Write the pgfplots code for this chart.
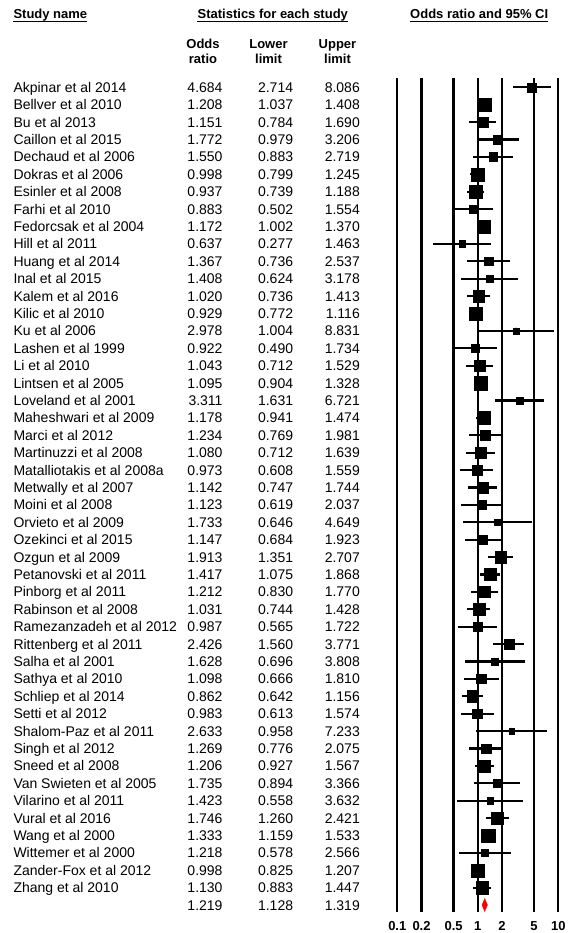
\documentclass[border=0pt]{standalone}
\usepackage{pgfplots}
\usepackage{pgfplotstable}
\pgfplotsset{compat=1.18}
\usepackage{fontspec}
\setmainfont{Liberation Sans}

\pgfplotstableread[col sep=comma]{
row,name,or,lo,hi,sz
1,Akpinar et al 2014,4.684,2.714,8.086,9.0
2,Bellver et al 2010,1.208,1.037,1.408,13.5
3,Bu et al 2013,1.151,0.784,1.690,10.8
4,Caillon et al 2015,1.772,0.979,3.206,8.5
5,Dechaud et al 2006,1.550,0.883,2.719,8.8
6,Dokras et al 2006,0.998,0.799,1.245,12.8
7,Esinler et al 2008,0.937,0.739,1.188,12.6
8,Farhi et al 2010,0.883,0.502,1.554,8.8
9,Fedorcsak et al 2004,1.172,1.002,1.370,13.5
10,Hill et al 2011,0.637,0.277,1.463,6.7
11,Huang et al 2014,1.367,0.736,2.537,8.3
12,Inal et al 2015,1.408,0.624,3.178,6.8
13,Kalem et al 2016,1.020,0.736,1.413,11.5
14,Kilic et al 2010,0.929,0.772,1.116,13.2
15,Ku et al 2006,2.978,1.004,8.831,5.6
16,Lashen et al 1999,0.922,0.490,1.734,8.2
17,Li et al 2010,1.043,0.712,1.529,10.8
18,Lintsen et al 2005,1.095,0.904,1.328,13.1
19,Loveland et al 2001,3.311,1.631,6.721,7.5
20,Maheshwari et al 2009,1.178,0.941,1.474,12.7
21,Marci et al 2012,1.234,0.769,1.981,9.7
22,Martinuzzi et al 2008,1.080,0.712,1.639,10.4
23,Matalliotakis et al 2008a,0.973,0.608,1.559,9.7
24,Metwally et al 2007,1.142,0.747,1.744,10.3
25,Moini et al 2008,1.123,0.619,2.037,8.5
26,Orvieto et al 2009,1.733,0.646,4.649,5.9
27,Ozekinci et al 2015,1.147,0.684,1.923,9.3
28,Ozgun et al 2009,1.913,1.351,2.707,11.2
29,Petanovski et al 2011,1.417,1.075,1.868,12.1
30,Pinborg et al 2011,1.212,0.830,1.770,10.8
31,Rabinson et al 2008,1.031,0.744,1.428,11.5
32,Ramezanzadeh et al 2012,0.987,0.565,1.722,8.8
33,Rittenberg et al 2011,2.426,1.560,3.771,10.1
34,Salha et al 2001,1.628,0.696,3.808,6.6
35,Sathya et al 2010,1.098,0.666,1.810,9.4
36,Schliep et al 2014,0.862,0.642,1.156,11.9
37,Setti et al 2012,0.983,0.613,1.574,9.7
38,Shalom-Paz et al 2011,2.633,0.958,7.233,5.8
39,Singh et al 2012,1.269,0.776,2.075,9.5
40,Sneed et al 2008,1.206,0.927,1.567,12.3
41,Van Swieten et al 2005,1.735,0.894,3.366,7.9
42,Vilarino et al 2011,1.423,0.558,3.632,6.1
43,Vural et al 2016,1.746,1.260,2.421,11.5
44,Wang et al 2000,1.333,1.159,1.533,13.6
45,Wittemer et al 2000,1.218,0.578,2.566,7.3
46,Zander-Fox et al 2012,0.998,0.825,1.207,13.1
47,Zhang et al 2010,1.130,0.883,1.447,12.5
}\studies

\pgfplotstableread[col sep=comma]{
row,or,lo,hi
48,1.219,1.128,1.319
}\summary

\begin{document}
\begin{tikzpicture}
\useasboundingbox (0,0) rectangle (569pt,933pt);

% ---------------- text columns ----------------
\begin{axis}[
  at={(0pt,21.3pt)}, anchor=south west,
  scale only axis, width=380pt, height=833.4pt,
  xmin=0, xmax=380, ymin=0.483, ymax=48.385, y dir=reverse,
  hide axis, clip=false,
  every node near coord/.append style={inner sep=0pt, yshift=-5pt,
     font=\fontsize{14}{16}\selectfont, text=black},
]
\addplot[draw=none, mark=none, nodes near coords, point meta=explicit symbolic,
  every node near coord/.append style={anchor=base west}]
  table[x expr=13.3, y=row, meta=name] {\studies};
\addplot[draw=none, mark=none, nodes near coords, point meta=explicit symbolic,
  every node near coord/.append style={anchor=base east}]
  table[x expr=222.7, y=row, meta=or] {\studies};
\addplot[draw=none, mark=none, nodes near coords, point meta=explicit symbolic,
  every node near coord/.append style={anchor=base east}]
  table[x expr=293.3, y=row, meta=lo] {\studies};
\addplot[draw=none, mark=none, nodes near coords, point meta=explicit symbolic,
  every node near coord/.append style={anchor=base east}]
  table[x expr=360, y=row, meta=hi] {\studies};
\addplot[draw=none, mark=none, nodes near coords, point meta=explicit symbolic,
  every node near coord/.append style={anchor=base east}]
  table[x expr=222.7, y=row, meta=or] {\summary};
\addplot[draw=none, mark=none, nodes near coords, point meta=explicit symbolic,
  every node near coord/.append style={anchor=base east}]
  table[x expr=293.3, y=row, meta=lo] {\summary};
\addplot[draw=none, mark=none, nodes near coords, point meta=explicit symbolic,
  every node near coord/.append style={anchor=base east}]
  table[x expr=360, y=row, meta=hi] {\summary};
\end{axis}

% ---------------- forest plot ----------------
\begin{axis}[
  at={(397.3pt,21.3pt)}, anchor=south west,
  scale only axis, width=161pt, height=833.4pt,
  xmode=log, xmin=0.1, xmax=10,
  ymin=0.483, ymax=48.385, y dir=reverse,
  xtick={0.1,0.2,0.5,1,2,5,10},
  xticklabels={0.1,0.2,0.5,1,2,5,10},
  minor xtick={}, ytick=\empty,
  major tick length=0pt,
  xmajorgrids,
  grid style={black, line width=2.2pt},
  major grid style={black, line width=2.2pt},
  axis line style={draw=none},
  xticklabel style={font=\bfseries\fontsize{13}{15}\selectfont, inner sep=0pt, anchor=north, yshift=-9.5pt},
  every error bar/.append style={line width=2.2pt, black},
  clip=false,
]
\addplot[black, line width=2.2pt, only marks, mark=none,
  error bars/.cd, x dir=both, x explicit, error mark=none,
  error bar style={line width=2.2pt, black}]
  table[x=or, y=row, x error plus expr=\thisrow{hi}-\thisrow{or},
        x error minus expr=\thisrow{or}-\thisrow{lo}] {\studies};
\addplot[scatter, only marks, mark=square*,
  scatter/use mapped color={draw=black, fill=black},
  mark options={line width=0.2pt},
  visualization depends on={\thisrow{sz} \as \msz},
  scatter/@pre marker code/.append style={/tikz/mark size=\msz/2}]
  table[x=or, y=row] {\studies};
\addplot[fill=red, draw=red, line width=0.3pt]
  coordinates {(1.128,48) (1.219,47.626) (1.319,48) (1.219,48.374)} -- cycle;
\end{axis}

% ---------------- headers ----------------
\begin{scope}[every node/.style={inner sep=0pt, font=\bfseries\fontsize{13}{15}\selectfont}]
\node[anchor=base west] (h1) at (13.3pt,914.5pt) {Study name};
\node[anchor=base] (h2) at (272.8pt,914.5pt) {Statistics for each study};
\node[anchor=base] (h3) at (479.2pt,914.5pt) {Odds ratio and 95\% CI};
\foreach \h in {h1,h2,h3}{
  \draw[line width=0.9pt] ([yshift=-2.6pt]\h.base west) -- ([yshift=-2.6pt]\h.base east);
}
\node[anchor=base] at (203pt,884.7pt) {Odds};
\node[anchor=base] at (203pt,869pt) {ratio};
\node[anchor=base] at (268.5pt,884.7pt) {Lower};
\node[anchor=base] at (268.5pt,869pt) {limit};
\node[anchor=base] at (337.5pt,884.7pt) {Upper};
\node[anchor=base] at (337.5pt,869pt) {limit};
\end{scope}
\end{tikzpicture}
\end{document}
